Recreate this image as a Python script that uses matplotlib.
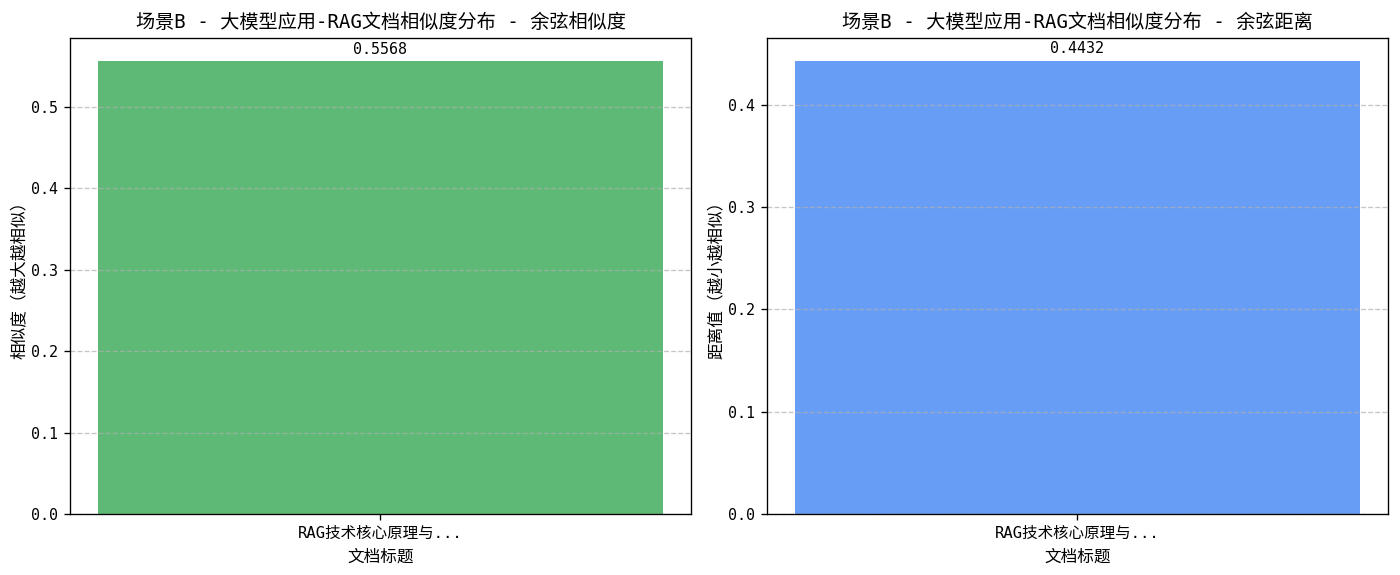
import matplotlib
matplotlib.use("Agg")
import matplotlib.pyplot as plt

plt.rcParams['font.family'] = ['DejaVu Sans Mono', 'Noto Sans CJK SC', 'DejaVu Sans']
plt.rcParams['axes.unicode_minus'] = False

doc_titles = ["RAG技术核心原理与..."]
cos_similarity = [0.5568]
cos_distance = [0.4432]

panels = [
    ("场景B - 大模型应用-RAG文档相似度分布 - 余弦相似度", cos_similarity, "#34A853", "相似度（越大越相似）"),
    ("场景B - 大模型应用-RAG文档相似度分布 - 余弦距离", cos_distance, "#4285F4", "距离值（越小越相似）"),
]

fig, axes = plt.subplots(1, 2, figsize=(1400 / 120, 575 / 120), dpi=120)
for ax, (title, vals, color, ylabel) in zip(axes, panels):
    bars = ax.bar(doc_titles, vals, color=color, alpha=0.8)
    for b in bars:
        h = b.get_height()
        ax.text(b.get_x() + b.get_width() / 2, h + 0.005, f"{h:.4f}",
                ha='center', va='bottom', fontsize=9)
    ax.set_title(title, fontsize=11.5)
    ax.set_xlabel("文档标题", fontsize=10)
    ax.set_ylabel(ylabel, fontsize=10, labelpad=2)
    ax.tick_params(axis='y', labelsize=9)
    ax.tick_params(axis='x', labelsize=9.3)
    ax.grid(axis='y', linestyle='--', alpha=0.7)

fig.subplots_adjust(left=0.05, right=0.9914, top=0.9339, bottom=0.1061, wspace=0.1224)
fig.savefig("out.png", dpi=120)
